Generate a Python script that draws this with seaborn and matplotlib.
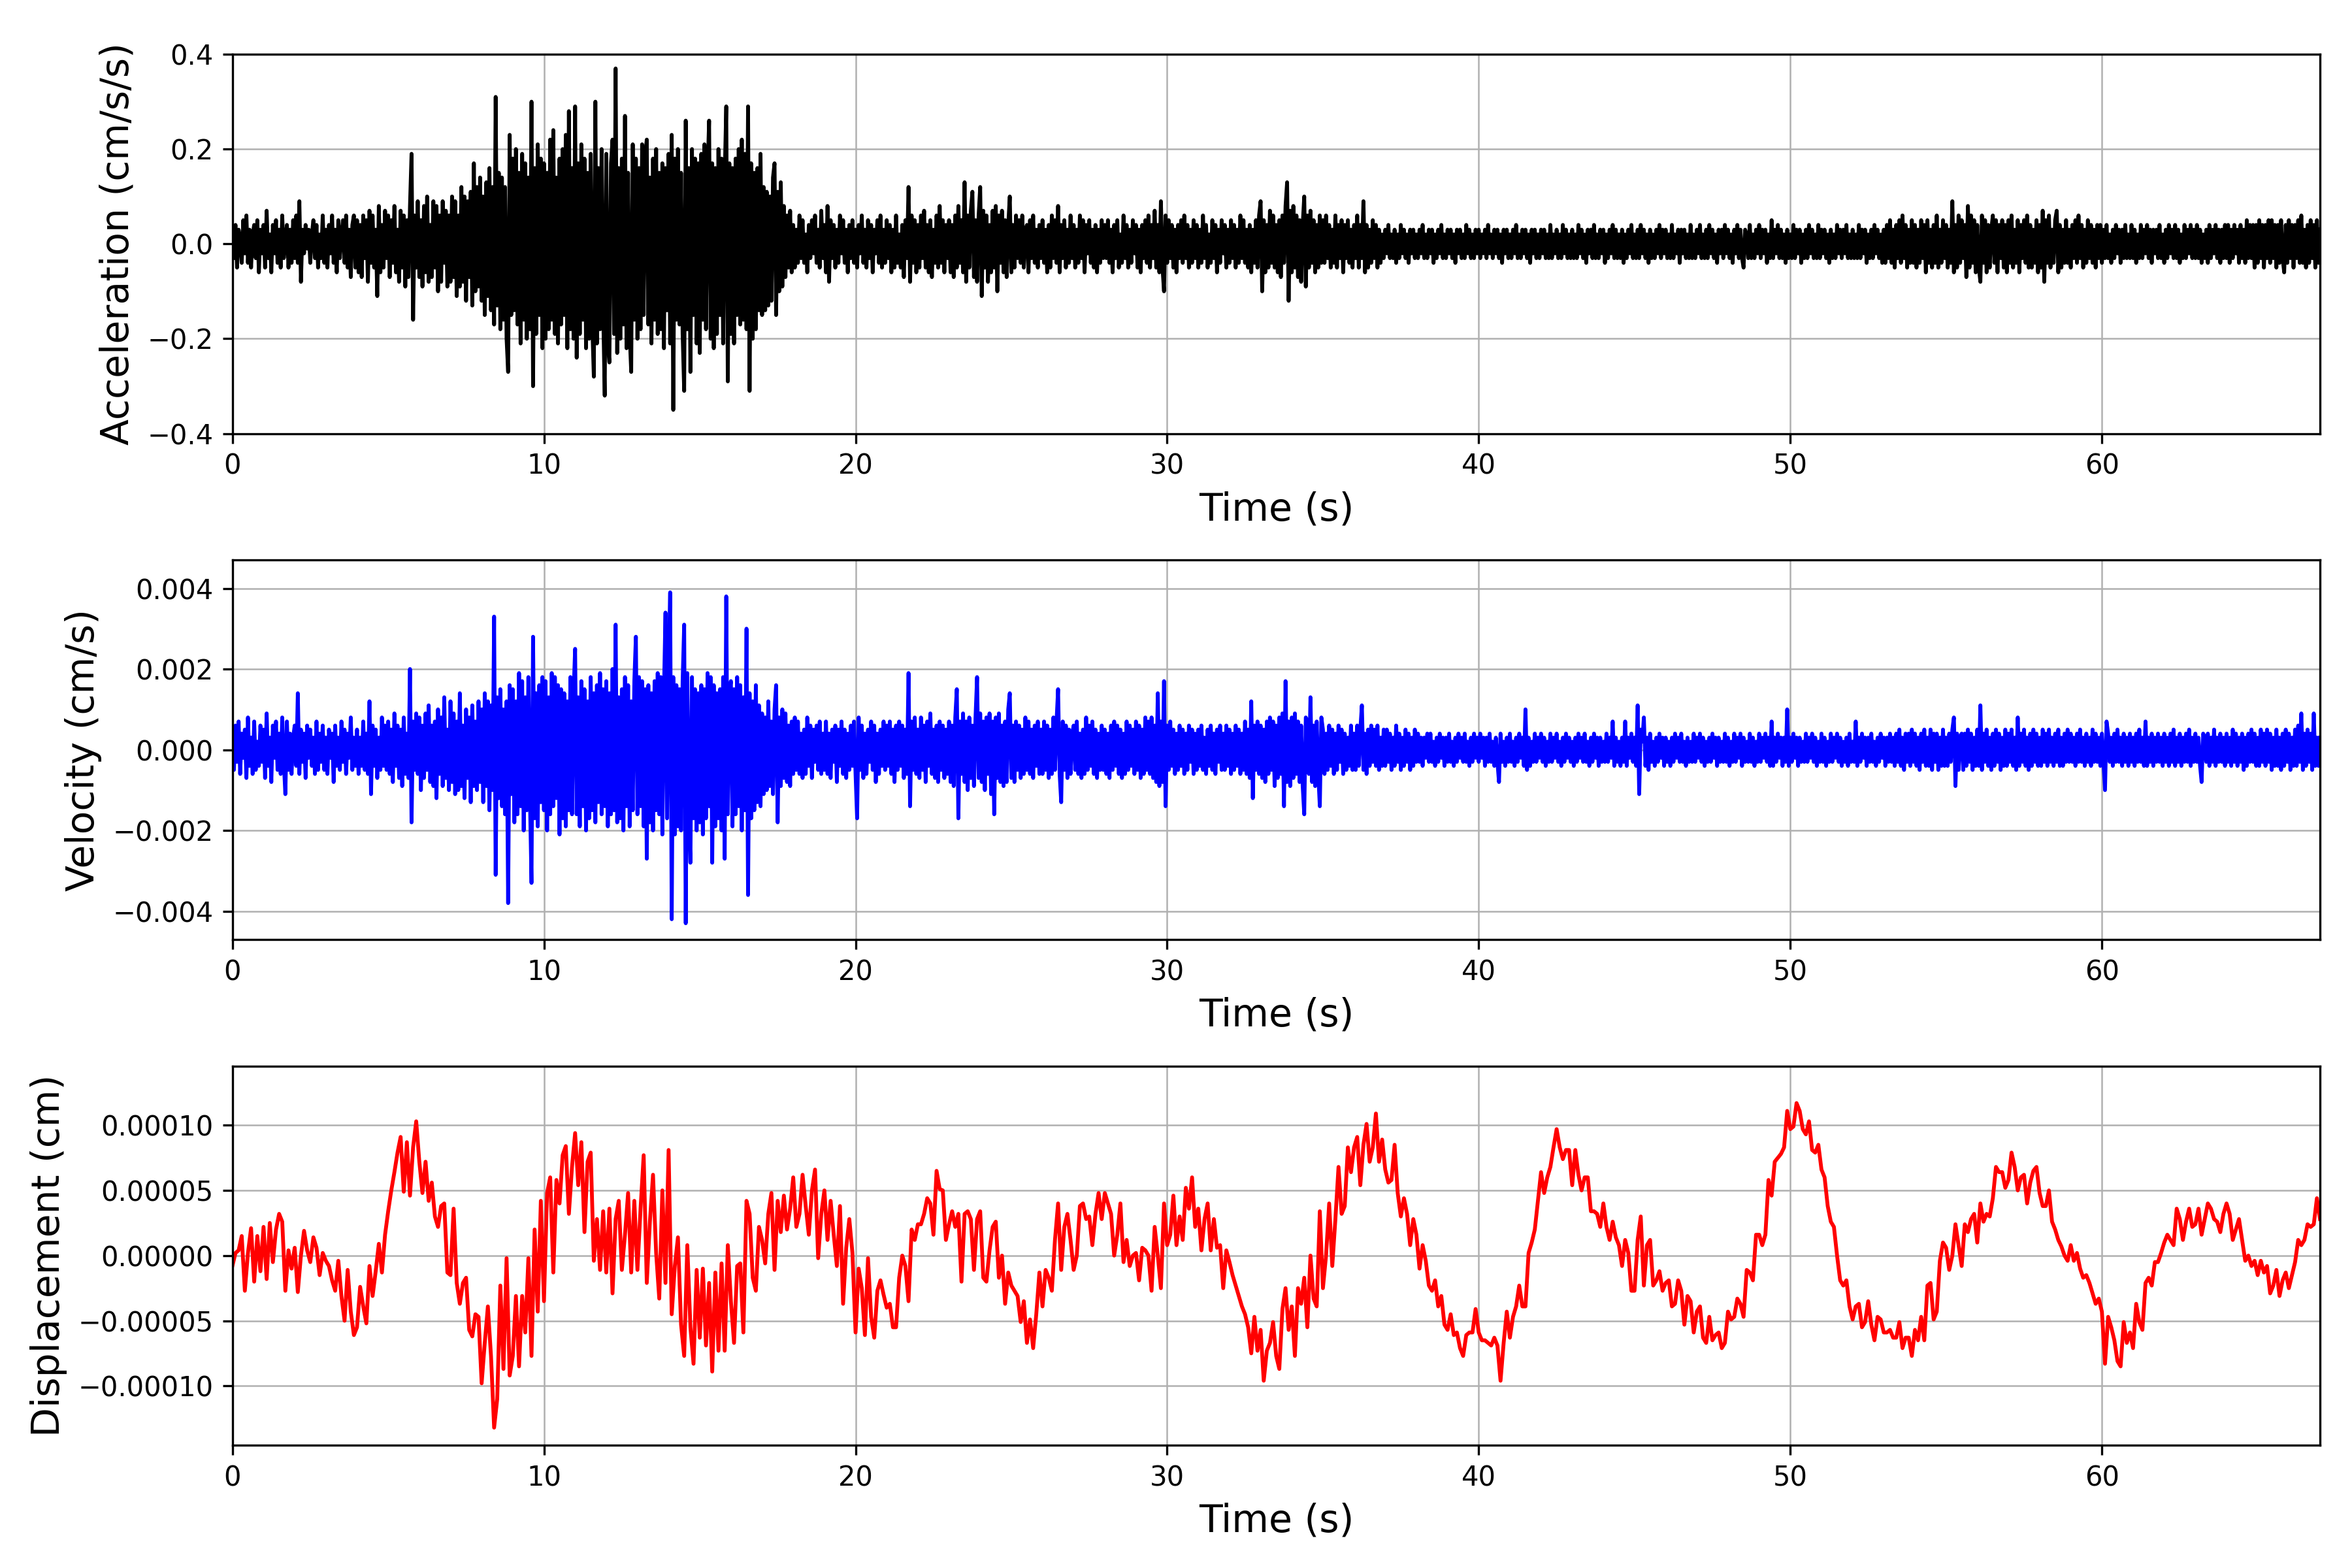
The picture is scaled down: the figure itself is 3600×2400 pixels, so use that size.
import numpy as np
import pandas as pd
import matplotlib
matplotlib.use("Agg")
import matplotlib.pyplot as plt
import seaborn as sns

# sample spacing of the digitised records (s)
dt_fast = 0.05   # acceleration, velocity
dt_disp = 0.1    # displacement

# acceleration, units of 0.01 cm/s/s, one row per second
accel_vals = [
    2, -3, 4, -5, 3, 1, -4, 5, -2, 6, -4, 3, -5, 2, 4, -3, 5, -6, 3, -2,
    4, -5, 7, -3, 2, -6, 4, -2, 5, -4, 3, -5, 6, -3, 1, 4, -5, 3, -4, 5,
    -3, 6, -4, 9, -8, 3, -2, 4, -1, 3, -4, 2, 5, -3, 4, -5, 2, -3, 6, -4,
    3, -5, 4, -2, 6, -4, 3, -6, 5, -3, 2, 5, -4, 6, -5, 3, -7, 4, 6, -5,
    5, -6, 4, -7, 6, -3, 5, -8, 7, -4, 6, -5, 3, -11, 8, -6, 4, -5, 7, -3,
    6, -7, 5, -4, 8, -6, 3, -8, 7, -5, 6, -9, 5, -7, 8, 19, -16, 6, -5, 9,
    -7, 5, -9, 8, -6, 10, -8, 4, -7, 9, -5, 8, -10, 6, -8, 9, -4, 7, -9, 6,
    -8, 10, -7, 9, -11, 6, -9, 12, -8, 10, -12, 9, -7, 11, -13, 17, -10, 12, -9, 14,
    -12, 10, -15, 13, -11, 16, -14, 12, -17, 31, -13, 15, -18, 14, -16, 12, -20, -27, 23, -15,
    18, -14, 20, -17, 15, -21, 19, -16, 17, -20, 14, -18, 30, -30, 16, -19, 21, -15, 18, -22,
    17, -20, 15, -18, 22, -16, 24, -19, 14, -21, 18, -17, 20, -15, 23, -22, 28, -18, 16, -20,
    29, -24, 17, -19, 21, -16, 18, -22, 15, -20, 19, -17, -28, 30, -21, 16, -18, 20, -14, -32,
    19, -21, -25, 17, 22, -19, 37, -23, 16, -20, 18, -17, 27, -22, 15, -19, -27, 21, -16, 18,
    -20, 16, -18, 21, -15, 19, 22, -17, 14, -21, 18, -16, 20, -19, 15, -18, 17, -22, 16, -14,
    19, -21, 23, -35, 18, -16, 20, -17, 15, -19, -31, 26, -18, 16, -27, 20, -15, 18, -21, 17,
    -23, 19, -16, 21, -18, 15, 26, -20, 17, -22, 16, -19, 20, -15, 18, -21, 14, 29, -29, 17,
    -19, 16, -21, 18, -15, 20, -17, 22, -16, 19, -18, 29, -31, 17, -20, 15, -18, 16, -14, 19,
    -15, 12, -14, 11, -13, 10, -12, 14, 17, -15, 11, -10, 13, -9, 8, -7, 6, -5, 7, -6,
    4, -5, 3, -4, 6, -3, 5, -4, 2, -6, 4, -3, 5, -2, 6, -4, 3, -5, 7, -3,
    4, -6, 8, -8, 5, -3, 4, -5, 3, -4, 6, -2, 5, -4, 3, -6, 4, -3, 5, -4,
    3, -5, 4, -2, 6, -4, 3, -5, 5, -3, 4, -6, 3, -2, 5, -4, 6, -5, 3, -4,
    5, -3, 4, -6, 3, -5, 6, -4, 2, -5, 4, -7, 5, -3, 12, -8, 6, -4, 5, -6,
    4, -5, 6, -3, 7, -5, 4, -6, 5, -7, 3, -4, 6, -5, 8, -4, 5, -6, 4, -3,
    5, -6, 4, -7, 6, -5, 8, -4, 5, -6, 13, -8, 6, -5, 7, 11, -7, 5, -8, 6,
    12, -11, 7, -5, 6, -8, 4, -6, 7, -5, 8, -10, 6, -4, 7, -6, 5, -7, 4, 10,
    -6, 4, -5, 6, -3, 5, -4, 6, -5, 3, 4, -6, 5, -3, 6, -4, 3, -5, 4, -3,
    5, -4, 3, -6, 4, -5, 6, -3, 5, -4, 8, -6, 4, -3, 5, -5, 3, -4, 6, -3,
    4, -5, 3, -4, 6, -3, 5, -6, 4, -2, 5, -4, 3, -5, 4, -6, 3, -4, 5, -3,
    4, -3, 5, -4, 3, -6, 4, -3, 5, -5, 2, -4, 6, -3, 4, -5, 3, -4, 5, -2,
    4, -5, 3, -6, 4, -3, 5, -4, 6, -5, 4, -3, 7, -5, 4, -6, 9, -5, -10, 6,
    -4, 5, -3, 4, -5, 3, -6, 4, -3, 5, -4, 6, -3, 4, -5, 3, -4, 5, -3, 4,
    -5, 3, -4, 6, -3, 4, -5, 2, -4, 5, -3, 4, -6, 3, -4, 5, -2, 4, -5, 3,
    -4, 5, -3, 4, -5, 3, -4, 6, -3, 5, -4, 3, -5, 4, -6, 3, -4, 5, -5, 6,
    9, -10, 5, -6, 4, -5, 7, -4, 6, -5, 4, -6, 5, -7, 6, -4, 8, 13, -12, 7,
    -6, 8, -5, 6, -7, 5, -8, 4, 10, -9, 6, -5, 7, -4, 5, -6, 4, -5, 6, -4,
    5, -4, 6, -3, 4, -5, 3, -4, 6, -5, 4, -3, 5, -6, 4, -3, 5, -4, 3, -5,
    4, -3, 6, -5, 4, -3, 9, -6, 4, -5, 3, -4, 5, -3, 4, -5, 3, -4, 2, -3,
    3, -2, 4, -3, 2, -3, 3, -4, 2, -3, 4, -2, 3, -3, 2, -4, 3, -2, 3, -3,
    2, -3, 3, -2, 4, -3, 2, -3, 3, -2, 3, -4, 2, -3, 3, -2, 4, -3, 2, -3,
    3, -2, 3, -3, 2, -4, 3, -2, 3, -3, 2, -3, 4, -2, 3, -3, 2, -3, 3, -2,
    3, -3, 2, -2, 3, -3, 4, -2, 2, -3, 3, -2, 3, -3, 2, -4, 3, -2, 3, -3,
    2, -3, 3, -2, 4, -3, 2, -3, 3, -2, 3, -3, 2, -4, 3, -2, 3, -3, 2, -3,
    3, -2, 3, -3, 2, -3, 4, -3, 2, -2, 3, -3, 2, -3, 4, -2, 3, -3, 2, -3,
    3, -3, 2, -3, 4, -2, 3, -3, 2, -4, 3, -2, 3, -3, 4, -3, 2, -3, 3, -2,
    3, -4, 2, -3, 3, -2, 4, -3, 3, -3, 2, -3, 3, -4, 2, -3, 3, -2, 4, -3,
    2, -3, 3, -3, 4, -2, 3, -3, 2, -4, 3, -3, 2, -3, 3, -2, 4, -3, 3, -2,
    3, -3, 2, -3, 4, -3, 2, -2, 3, -4, 3, -2, 3, -3, 2, -3, 4, -3, 2, -3,
    3, -2, 4, -3, 2, -3, 3, -3, 4, -2, 3, -3, 2, -4, 3, -2, 3, -3, 4, -2,
    3, -3, 2, -4, 3, -2, 4, -3, 3, -3, -5, 3, 2, -3, 4, -3, 2, -3, 3, -2,
    4, -3, 3, -2, 3, -4, 2, -3, 5, -3, 3, -2, 4, -3, 3, -3, 2, -4, 3, -3,
    2, -3, 4, -3, 3, -2, 3, -4, 2, -3, 3, -3, 4, -2, 3, -3, 2, -3, 4, -3,
    3, -2, 3, -3, 2, -4, 3, -3, 2, -3, 4, -2, 3, -3, 3, -2, 4, -3, 2, -3,
    3, -3, 2, -3, 4, -3, 3, -2, 3, -4, 2, -3, 3, -3, 4, -2, 3, -3, 2, -4,
    3, -4, 4, -3, 5, -4, 3, -5, 4, -3, 5, -4, 6, -3, 4, -5, 3, -4, 5, -4,
    4, -5, 3, -4, 5, -3, 4, -6, 5, -4, 3, -5, 4, -4, 6, -5, 3, -4, 5, -3,
    4, -5, 3, -4, 9, -6, 4, -5, 6, -4, 5, -3, 4, -7, 8, -5, 6, -4, 5, -6,
    4, -5, -8, 6, -4, 5, -6, 4, -5, 3, 6, -4, 5, -6, 4, -3, 5, -5, 4, -6,
    5, -4, 6, -5, 3, -4, 5, -6, 4, -3, 5, -4, 6, -5, 4, -5, 3, -4, 5, -6,
    4, -5, 7, -8, 5, -4, 6, -5, 3, -4, 5, 7, -6, 4, -5, 3, -4, 5, -4, 3,
    -5, 4, -3, 5, -4, 6, -3, 4, -5, 3, -4, 5, -3, 4, -4, 3, -5, 4, -3, 4,
    -4, 3, -3, 4, -3, 2, -4, 3, -3, 4, -2, 3, -4, 3, -3, 4, -3, 2, -3, 4,
    -3, 3, -4, 2, -3, 4, -3, 3, -2, 4, -3, 3, -4, 3, -2, 3, -3, 4, -3, 2,
    -4, 3, -3, 4, -2, 3, -3, 4, -3, 3, -4, 2, -3, 4, -3, 3, -2, 4, -3, 3,
    -3, 4, -3, 3, -4, 2, -3, 3, -4, 4, -3, 3, -2, 4, -3, 3, -4, 3, -3, 4,
    -3, 4, -4, 3, -3, 4, -2, 3, -4, 4, -3, 3, -4, 5, -3, 4, -3, 4, -5, 4,
    -4, 5, -3, 4, -5, 4, -3, 5, -4, 5, -3, 4, -5, 4, -4, 5, -3, -6, 4, -4,
    5, -3, 4, -5, 4, -3, 5, -4, 6, -4, 3, -5, 4, -4, 5, -3, 4, -5, 5, -4,
    3,
]

# velocity, units of 1e-4 cm/s, one row per second
vel_vals = [
    2, -5, 6, -3, 7, -6, 4, -2, 5, -7, 8, -4, 3, -6, 7, -5, 2, -4, 6, -3,
    5, -7, 9, -4, 3, -8, 6, -2, 7, -5, 4, -6, 8, -3, -11, 7, -5, 4, -6, 3,
    6, -4, 14, -6, 5, -3, 4, -7, 6, -2, 5, -4, 3, -6, 7, -5, 4, -3, 6, -5,
    3, -6, 5, -2, 4, -8, 6, -4, 3, -5, 7, -3, 5, -6, 4, -2, 8, -5, 3, -4,
    5, -6, 3, -4, 7, -5, 4, -6, 12, -11, 6, -4, 5, -7, 3, -5, 8, -4, 6, -5,
    7, -6, 5, -8, 9, -4, 6, -7, 5, -9, 8, -6, 4, -7, 20, -18, 7, -5, 9, -6,
    8, -10, 6, -7, 9, -5, 11, -8, 6, -9, 7, -12, 10, -6, 8, -9, 13, -7, 5, -10,
    12, -8, 9, -11, 7, -10, 14, -9, 6, -12, 10, -7, 8, -13, 11, -9, 7, -10, 12, -8,
    10, -13, 14, -9, 12, -15, 11, -10, 33, -31, 13, -12, 15, -14, 10, -16, 12, -38, 16, -11,
    15, -18, 12, -16, 19, -14, 17, -20, 13, -15, 18, -12, -33, 28, -17, 14, -19, 16, -13, 18,
    -15, 17, -20, 13, -16, 19, -14, 18, -12, 16, -21, 15, -17, 14, -19, 12, -15, 18, -16, 14,
    25, -16, 13, -19, 17, -14, 15, -20, 12, -17, 18, -15, 14, -18, 16, -13, 19, -16, 15, -14,
    17, -19, 14, -16, 20, -15, 31, -18, 13, -17, 15, -20, 18, -14, 16, -19, 12, -15, 17, 28,
    -16, 18, -14, 17, -19, 15, -27, 16, -18, 14, -20, 17, -15, 19, -16, 18, -21, 14, 34, -17,
    20, 39, -42, 18, -21, 16, -19, 15, -20, 17, 31, -43, 19, -16, -28, 18, -17, 15, -20, 14,
    -18, 16, -21, 15, -17, 19, -14, 18, -28, 16, -19, 14, -17, 15, -20, 18, -27, 38, -16, 14,
    17, -19, 15, -16, 18, -14, 16, -20, 13, -15, 30, -36, 14, -17, 12, -15, 16, -13, 11, -14,
    9, -11, 8, -10, 12, -9, 7, -11, 10, 16, -18, 8, -9, 10, -7, 9, -8, 6, -9, 7,
    -6, 8, -5, 7, -6, 4, -7, 5, -6, 8, -4, 6, -7, 5, -3, 6, -5, 7, -6, 4,
    -5, 7, -6, 4, -7, 5, -3, 6, -8, 5, -4, 7, -6, 5, -7, 4, -5, 6, -4, 7,
    -6, -17, 8, -5, 6, -7, 4, -6, 5, -3, 7, -5, 6, -8, 4, -6, 5, -4, 7, -5,
    6, -4, 7, -6, 5, -8, 6, -5, 7, -4, 6, -7, 5, -6, 19, -14, 7, -5, 8, -6,
    5, -7, 8, -5, 6, -8, 7, -4, 9, -6, 5, -7, 6, -8, 7, -5, 6, -7, 5, -6,
    7, -8, 6, -9, 8, 15, -17, 7, -6, 9, -8, 7, -10, 8, -7, 6, -9, 8, 18, -7,
    9, -8, 7, -10, 8, -6, 9, -11, 7, -16, 8, -7, 9, -8, 6, -9, 7, -8, 10, 14,
    -7, 6, -8, 7, -5, 6, -7, 5, -6, 8, -5, 7, -6, 5, -7, 6, -4, 7, -6, 5,
    -6, 7, -5, 6, -7, 5, -6, 8, -5, 7, 15, -6, -13, 7, -5, 6, -7, 5, -6, 4,
    6, -5, 7, -6, 4, -7, 5, -6, 8, -5, 6, -4, 7, -6, 5, -7, 4, -5, 6, -5,
    5, -6, 4, -7, 6, -5, 7, -4, 6, -6, 5, -7, 4, -6, 7, -5, 6, -4, 5, -6,
    7, -5, 6, -7, 5, -6, 8, -5, 7, -6, 8, -7, 6, -8, 14, -9, 7, -8, 17, -14,
    6, -5, 7, -4, 5, -6, 4, -5, 6, -4, 5, -6, 4, -5, 6, -3, 5, -6, 4, -5,
    5, -4, 6, -5, 3, -6, 5, -4, 6, -5, 4, -6, 5, -3, 6, -5, 4, -5, 6, -4,
    5, -6, 4, -5, 6, -4, 5, -6, 4, -5, 7, -6, 5, -7, 12, -12, 6, -5, 7, -6,
    6, -7, 5, -8, 7, -6, 8, -5, 7, -9, 6, -7, 8, -6, 9, -14, 17, -8, 7, -9,
    8, -7, 9, -6, 7, -8, 6, -9, -16, 8, 7, -6, 13, -8, 6, -9, 7, -6, -14, 8,
    5, -6, 4, -5, 6, -4, 5, -6, 4, -5, 6, -3, 5, -6, 4, -5, 3, -4, 6, -5,
    4, -5, 6, -4, 5, 11, -5, 4, -6, 5, -4, 6, -3, 5, -4, 6, -5, 3, -4, 5,
    -4, 5, -3, 4, -5, 3, -4, 6, -3, 4, -5, 3, -4, 5, -3, 4, -5, 3, -4, 5,
    -3, 4, -3, 3, -4, 3, -2, 4, -3, 4, -3, 2, -4, 3, -3, 4, -2, 3, -4, 3,
    -3, 4, -3, 2, -4, 3, -3, 4, -2, 3, -3, 4, -3, 2, -4, 3, -3, 4, -2, 3,
    -3, 4, -2, 3, -4, 3, -3, 4, -3, 2, -4, 3, -3, -8, 4, -3, 2, -4, 3, -3,
    4, -3, 2, -4, 3, -3, 4, -2, 3, -4, 10, -5, 3, -4, 2, -3, 4, -3, 3, -2,
    4, -3, 3, -4, 2, -3, 4, -3, 3, -2, 4, -3, 2, -4, 3, -3, 4, -2, 3, -3,
    2, -4, 3, -3, 4, -2, 3, -3, 4, -3, 2, -4, 3, -3, 4, -2, 3, -4, 3, -3,
    2, -3, 4, -3, 3, -2, 7, -4, 3, -3, 2, -4, 3, -3, 7, -4, 3, -2, 4, -3,
    3, -4, 11, -11, 5, 2, 8, -4, 3, -5, 4, -3, 2, -4, 3, -3, 4, -2, 3, -4,
    3, -3, 2, -4, 3, -3, 4, -2, 3, -3, 4, -3, 2, -4, 3, -3, 2, -3, 4, -3,
    3, -2, 4, -3, 3, -4, 2, -3, 3, -3, 4, -2, 3, -4, 3, -3, 2, -3, 4, -3,
    3, -4, 2, -3, 4, -3, 3, -2, 4, -4, 3, -3, 2, -3, 4, -3, 3, -4, 2, -3,
    4, -3, 3, -2, 4, -3, 3, -4, 7, -4, 3, -3, 4, -2, 3, -4, 3, -3, 10, -4,
    3, -3, 4, -2, 3, -4, 3, -3, 2, -3, 4, -3, 3, -2, 4, -3, 3, -4, 2, -3,
    4, -3, 3, -4, 2, -3, 4, -3, 3, -2, 4, -3, 3, -4, 2, -3, 3, -4, 4, -3,
    2, -3, 7, -4, 3, -3, 4, -2, 3, -4, 3, -3, 4, -3, 2, -4, 3, -3, 4, -2,
    3, -4, 3, -3, 4, -3, 3, -4, 4, -3, 5, -4, 3, -5, 4, -3, 4, -4, 5, -3,
    4, -4, 3, -5, 4, -3, 5, -4, 3, -4, 5, -5, 4, -3, 4, -5, 3, -4, 5, -4,
    3, -4, 4, -3, 5, 8, -9, 4, -5, 3, 4, -5, 4, -4, 5, -3, 4, -5, 3, -4,
    5, -4, 11, -5, 4, -3, 5, -4, 3, -5, 4, -4, 5, -3, 4, -5, 3, -4, 5, -4,
    4, -3, 5, -4, 3, -5, 8, -4, 4, -3, 5, -4, 3, -5, 4, -4, 5, -3, 4, -4,
    3, -4, 5, -3, 4, -4, 5, -3, 3, -4, 4, -3, 5, -4, 3, -4, 4, -3, 5, -3,
    4, -3, 3, -4, 4, -3, 5, -3, 3, -4, 4, -3, 3, -4, 5, -3, 4, -3, 3, -4,
    4, -3, -10, 7, 4, -3, 3, -4, 4, -3, 5, -3, 3, -4, 4, -3, 3, -4, 4, -3,
    3, -4, 4, -3, 5, -3, 3, -4, 7, -4, 3, -3, 4, -4, 3, -3, 4, -3, 3, -4,
    4, -3, 3, -4, 4, -3, 5, -4, 3, -3, 4, -4, 3, -3, 4, -3, 5, -4, 3, -3,
    4, -3, 3, -4, -8, 4, 3, -3, 4, -4, 3, -3, 5, -4, 3, -3, 4, -3, 3, -4,
    4, -3, 3, -4, 5, -3, 4, -4, 3, -3, 4, -5, 3, -4, 4, -3, 5, -3, 4, -4,
    3, -4, 5, -3, 4, -4, 5, -3, 4, -5, 3, -4, 5, -4, 3, -5, 4, -4, 5, -3,
    4, -5, 3, -4, 5, -4, 6, -3, 9, -5, 4, -4, 5, -3, 4, -5, 9, -4, 3, -4,
    3,
]

# displacement, units of 1e-6 cm, ten samples per second
disp_vals = [
    -8, 2, 4, 15, -27, 2, 21, -20, 15, -12,
    22, -18, 25, -5, 20, 32, 26, -27, 4, -10,
    6, -28, 0, 19, 4, -5, 14, 6, -15, 2,
    -4, -8, -19, -27, -4, -31, -50, -11, -43, -61,
    -55, -24, -39, -52, -8, -31, -12, 9, -13,
    16, 34, 50, 64, 79, 91, 49, 87, 46,
    83, 103, 72, 48, 72, 42, 56, 30, 22,
    38, 40, -13, -15, 36, -21, -37, -21,
    -17, -57, -62, -45, -47, -98, -67, -39, -77, -132,
    -110, -23, -87, -2, -92, -77, -31, -85, -31,
    -59, -2, -77, 20, -43, 42, -35, 48, 60, -13,
    58, 40, 77, 84, 32, 68, 94, 54, 87,
    18, 72, 79, -4, 28, -11, 34, -13, 36,
    -29, 28, 42, -11, 16, 48, -13, 42, -11, 36,
    77, -21, 26, 62, 2, -33, 50, -21, 81,
    -45, -8, 14, -53, -77, 8, -55, -83, -11, -63,
    -10, -69, -21, -89, -13, -73, -6, -73, 8, -35,
    -67, -8, -6, -59, 42, 32, -17, -27, 22, 12,
    -6, 32, 48, -11, 42, 18, 46, 20, 36, 60,
    22, 32, 62, 38, 16, 50, 66, -2, 32, 50,
    12, 42, 16, -8, 38, -37, 6, 28, 2, -59,
    -10, -25, -61, -2, -47, -63, -27, -19, -30,
    -40, -37, -55, -55, -17, 0, -8, -35, 20, 12,
    24, 24, 32, 44, 40, 16, 65, 51, 50, 12,
    24, 34, 22, 32, -20, 32, 34, 28, -11, 28,
    34, -17, -20, 4, 22, 26, -17, 0, -37, -13,
    -23, -27, -31, -51, -35, -67, -49, -71, -45, -13,
    -39, -11, -17, -27, 12, 40, -11, 22, 32, 12,
    -11, 0, 38, 40, 28, 30, 8, 32, 48, 28,
    48, 40, 32, 0, 16, 40, -5, 12, -8, 0,
    2, -19, 6, 4, 0, -27, 22, 0, -25, 40,
    8, 16, 46, 8, 30, 12, 52, 36, 60, 22,
    36, 4, 28, 40, 4, 28, 6, 8, -25, 4,
    -5, -15, -23, -31, -39, -45, -55, -75, -47, -73,
    -57, -96, -73, -67, -51, -77, -87, -41, -25, -57,
    -39, -77, -25, -37, -17, -55, 0, -33, -39, 34,
    -25, 0, 40, -8, 28, 68, 32, 38, 83, 64,
    83, 91, 54, 85, 101, 72, 83, 109, 72, 89,
    66, 56, 58, 85, 48, 30, 44, 32, 8, 28,
    16, -10, 8, -4, -23, -27, -19, -39, -31, -53,
    -57, -45, -61, -59, -71, -77, -61, -59, -59, -41,
    -59, -65, -65, -67, -69, -63, -69, -96, -67, -43,
    -63, -47, -39, -23, -39, -39, 2, 10, 20, 42,
    64, 48, 60, 68, 83, 97, 83, 74, 81, 81,
    54, 81, 62, 50, 60, 60, 34, 34, 32, 22,
    40, 22, 12, 26, 14, 8, -8, 12, 2, -27,
    -27, 12, 30, -23, 8, 12, -23, -19, -12, -27,
    -21, -19, -39, -37, -19, -27, -53, -31, -35, -59,
    -43, -39, -63, -67, -47, -65, -61, -59, -71, -67,
    -43, -49, -47, -33, -37, -47, -11, -13, -19, 16,
    16, 8, 16, 58, 46, 72, 75, 78, 83, 111,
    97, 99, 117, 111, 97, 93, 103, 81, 79, 85,
    66, 60, 38, 26, 22, 0, -19, -23, -19, -39,
    -49, -39, -37, -55, -51, -35, -53, -65, -47, -49,
    -59, -59, -57, -63, -63, -51, -71, -63, -63, -77,
    -57, -65, -47, -65, -23, -21, -49, -43, -4, 10,
    6, -11, 0, 24, 8, -8, 24, 18, 28, 32,
    10, 40, 26, 32, 30, 44, 68, 64, 64, 52,
    58, 79, 68, 50, 60, 62, 40, 56, 65, 68,
    48, 38, 38, 50, 26, 20, 12, 7, 0, -4,
    8, -4, 2, -10, -17, -15, -21, -29, -37, -33,
    -43, -83, -47, -55, -65, -81, -85, -51, -67, -59,
    -71, -37, -51, -57, -21, -17, -23, -5, -5, 2,
    10, 16, 12, 8, 36, 28, 12, 26, 36, 22,
    24, 36, 16, 28, 40, 36, 28, 26, 18, 32,
    40, 32, 12, 20, 28, 12, -4, 0, -8, -4,
    -15, -4, -13, -8, -29, -23, -11, -31, -19, -13,
    -25, -15, -5, 12, 8, 12, 24, 22, 24, 44,
    28,
]

panels = [
    (accel_vals, dt_fast, 0.01, "black", "Acceleration (cm/s/s)", 0.4),
    (vel_vals, dt_fast, 1e-4, "blue", "Velocity (cm/s)", 0.0047),
    (disp_vals, dt_disp, 1e-6, "red", "Displacement (cm)", 0.0001455),
]

fig, axes = plt.subplots(3, 1, figsize=(12, 8), dpi=300)
fig.subplots_adjust(left=0.0988, right=0.9864, top=0.9654, bottom=0.0783,
                    hspace=0.3336)

for ax, (vals, dt, unit, colour, label, lim) in zip(axes, panels):
    df = pd.DataFrame({"t": np.arange(len(vals)) * dt,
                       "y": np.array(vals, dtype=float) * unit})
    sns.lineplot(data=df, x="t", y="y", ax=ax, color=colour, linewidth=1.4)
    ax.set_xlim(0, 67)
    ax.set_ylim(-lim, lim)
    ax.grid(True, color="#b0b0b0", linewidth=0.6)
    ax.set_xlabel("Time (s)", fontsize=14)
    ax.set_ylabel(label, fontsize=14)
    ax.tick_params(labelsize=10)

fig.savefig("out.png", dpi=300)
